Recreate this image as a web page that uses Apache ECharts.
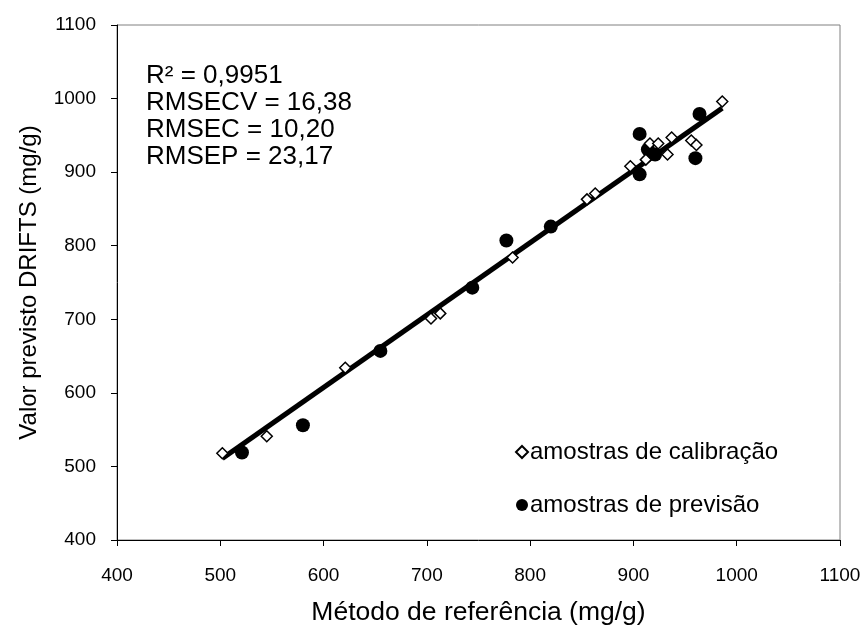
<!DOCTYPE html>
<html>
<head>
<meta charset="utf-8">
<script src="https://cdn.jsdelivr.net/npm/echarts@6/dist/echarts.min.js"></script>
<style>
  html, body { margin: 0; padding: 0; background: #fff; }
  #chart { width: 866px; height: 631px; }
</style>
</head>
<body>
<div id="chart"></div>
<script>
// calibration samples [reference, predicted]
var calibracao = [
  [502, 518], [545, 541], [621, 634], [704, 701], [713, 708],
  [783, 784], [855, 863], [863, 871], [897, 908], [912, 917],
  [916, 939], [924, 939], [933, 924], [937, 947], [956, 943],
  [961, 937], [986, 996]
]
// prediction samples
var previsao = [
  [521, 519], [580, 556], [655, 657], [744, 743], [777, 807],
  [820, 826], [906, 897], [906, 952], [914, 931], [921, 924],
  [960, 919], [964, 979]
]
// fitted line ends
var ajuste = [[502, 511], [986, 987]]
var estatisticas = ['R² = 0,9951', 'RMSECV = 16,38', 'RMSEC = 10,20', 'RMSEP = 23,17']

var font = '"Liberation Sans", Arial, sans-serif'
var chart = echarts.init(document.getElementById('chart'))

chart.setOption({
  animation: false,
  grid: {
    left: 117,
    right: 26,
    top: 25,
    bottom: 89,
    show: true,
    borderColor: '#808080',
    borderWidth: 1
  },
  xAxis: {
    type: 'value',
    min: 400,
    max: 1100,
    interval: 100,
    name: 'Método de referência (mg/g)',
    nameLocation: 'middle',
    nameGap: 59,
    nameTextStyle: { fontFamily: font, fontSize: 26.5, color: '#000' },
    axisLine: { onZero: false, lineStyle: { color: '#000', width: 1 } },
    axisTick: { show: true, inside: false, length: 6, lineStyle: { color: '#000' } },
    axisLabel: { fontFamily: font, fontSize: 19, color: '#000', margin: 26, formatter: function (v) { return String(v) } },
    splitLine: { show: false }
  },
  yAxis: {
    type: 'value',
    min: 400,
    max: 1100,
    interval: 100,
    name: 'Valor previsto DRIFTS (mg/g)',
    nameLocation: 'middle',
    nameGap: 76,
    nameTextStyle: { fontFamily: font, fontSize: 24, color: '#000' },
    axisLine: { onZero: false, lineStyle: { color: '#000', width: 1 } },
    axisTick: { show: true, inside: false, length: 6, lineStyle: { color: '#000' } },
    axisLabel: { fontFamily: font, fontSize: 19, color: '#000', margin: 21, formatter: function (v) { return String(v) } },
    splitLine: { show: false }
  },
  legend: {
    orient: 'vertical',
    left: 510,
    top: 435,
    itemGap: 29,
    itemWidth: 12,
    itemHeight: 12,
    textStyle: { fontFamily: font, fontSize: 24, color: '#000', padding: [0, 0, 0, -3] },
    data: ['amostras de calibração', 'amostras de previsão']
  },
  graphic: estatisticas.map(function (t, i) {
    return {
      type: 'text',
      left: 146,
      top: 63 + i * 27,
      style: { text: t, fontFamily: font, fontSize: 26, fill: '#000' }
    }
  }),
  series: [
    {
      name: 'ajuste',
      type: 'line',
      data: ajuste,
      symbol: 'none',
      lineStyle: { color: '#000', width: 5 },
      z: 1
    },
    {
      name: 'amostras de previsão',
      type: 'scatter',
      data: previsao,
      symbol: 'circle',
      symbolSize: 14,
      itemStyle: { color: '#000', opacity: 1 },
      z: 2
    },
    {
      name: 'amostras de calibração',
      type: 'scatter',
      data: calibracao,
      symbol: 'diamond',
      symbolSize: 11,
      itemStyle: { color: '#fff', borderColor: '#000', borderWidth: 1.5, opacity: 1 },
      z: 3
    }
  ]
})
</script>
</body>
</html>
